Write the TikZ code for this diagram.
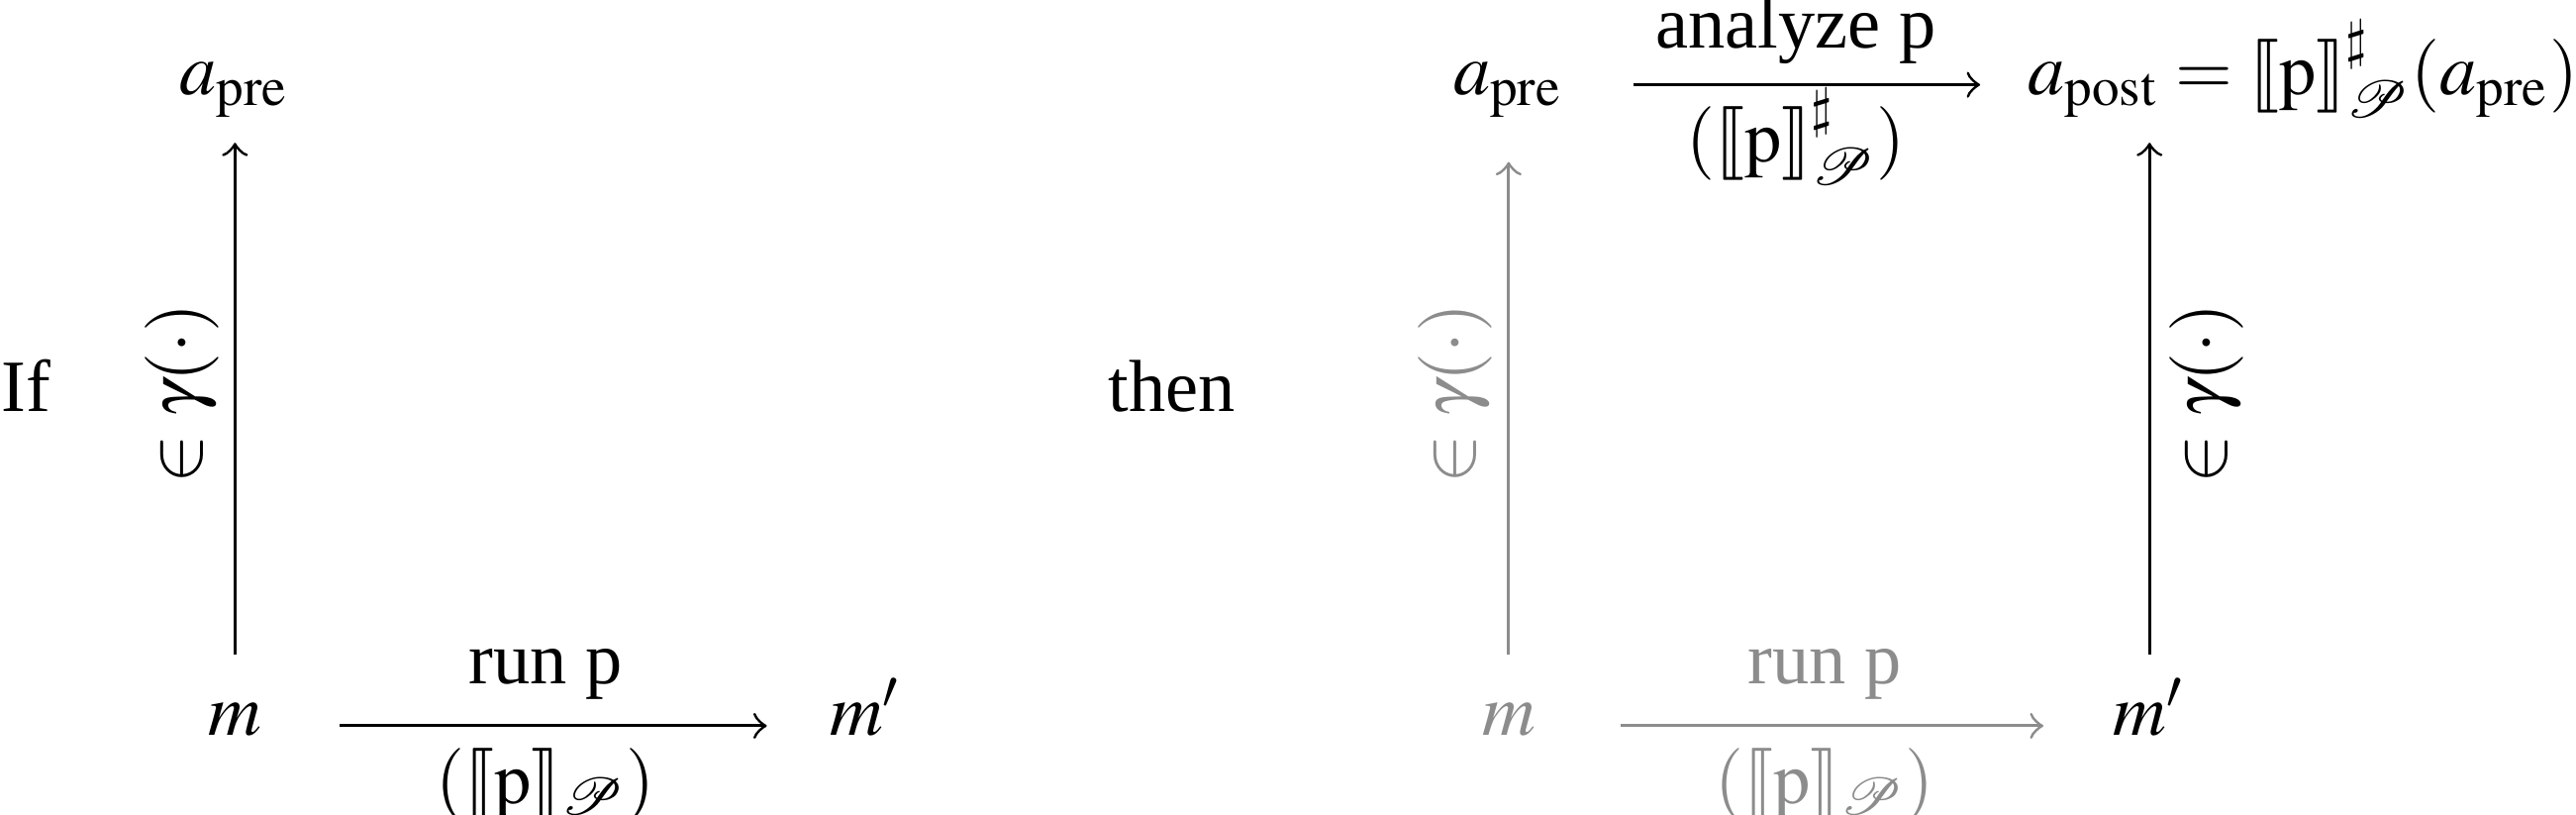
\documentclass[tikz,border=0pt]{standalone}
\usepackage{mathptmx}
\usepackage{stmaryrd}
\usepackage{mathrsfs}
\usepackage[no-math]{fontspec}
\setmainfont{Liberation Serif}
\usetikzlibrary{positioning}

\colorlet{ghostgray}{black!45}
\newcommand{\sem}[1]{\llbracket #1 \rrbracket}

\begin{document}
\begin{tikzpicture}[%
    >=to,
    node distance=3cm,
    on grid,
    auto,
    cell/.style={anchor=base, inner sep=3.33pt, text height=1.5ex, text depth=.25ex},
    hor/.style={->, shorten <=7pt, shorten >=5pt, transform canvas={yshift=-1pt}},
    ver/.style={->, shorten <=0.5pt, shorten >=1.9pt},
    under/.style={swap, text height=7pt},
    ghost/.style={color=ghostgray}]
    \useasboundingbox (0,0) rectangle (349.7pt,110.5pt);

    % if part
    \node[anchor=base west, inner sep=0pt] (if) at (0pt,54.6pt) {If};
    \node[cell] (m_1) at (31.9pt,10.7pt) {$m$};
    \node[above=87pt of m_1.base, cell] (apre_1) {$a_{\mathrm{pre}}$};
    \node[right=85.6pt of m_1.base, cell] (mprime_1) {$m'$};

    % then part
    \node[cell] (then) at (159.1pt,54.6pt) {then};
    \node[cell, ghost] (m_2) at (204.8pt,10.7pt) {$m$};
    \node[above=87pt of m_2.base, cell] (apre_2) {$a_{\mathrm{pre}}$};
    \node[right=87pt of m_2.base, cell] (mprime_2) {$m'$};
    \node[right=67pt of apre_2.base, cell, anchor=base west] (apost_2)
        {$a_{\mathrm{post}} = \sem{\mathrm{p}}^{\sharp}_{\mathscr{P}}(a_{\mathrm{pre}})$};

    \draw[ver] (m_1) -- node[sloped, inner sep=2pt] {$\in\gamma(\cdot)$} (apre_1);
    \draw[hor] (m_1.mid east) -- node {run p}
        node[under] {$(\sem{\mathrm{p}}_{\mathscr{P}})$} (mprime_1.mid west);

    \draw[ver, ghost, shorten >=4.5pt] (m_2) -- node[sloped, inner sep=2pt] {$\in\gamma(\cdot)$} (apre_2);
    \draw[hor, ghost, shorten <=8pt, shorten >=6pt] (m_2.mid east) -- node {run p}
        node[under] {$(\sem{\mathrm{p}}_{\mathscr{P}})$} (mprime_2.mid west);
    \draw[hor, shorten <=6pt, shorten >=3pt] (apre_2.mid east) -- node[inner sep=2.6pt] {analyze p}
        node[under] {$(\sem{\mathrm{p}}^{\sharp}_{\mathscr{P}})$} (apost_2.mid west);
    \draw[ver] (mprime_2) -- node[sloped, swap, inner sep=2.5pt] {$\in\gamma(\cdot)$} (mprime_2 |- apost_2.south);
\end{tikzpicture}
\end{document}
